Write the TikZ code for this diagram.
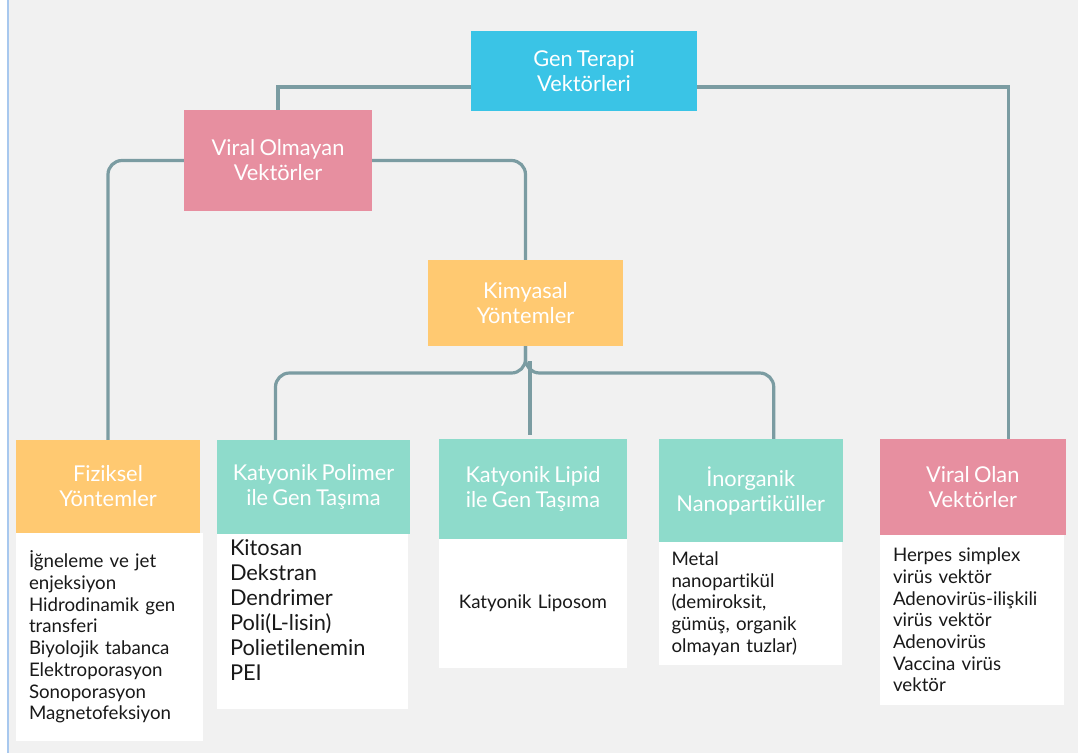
\documentclass[tikz,border=0pt]{standalone}
\usepackage{fontspec}
\setmainfont{Lato}[Ligatures={NoCommon}, WordSpace=0.75]
\usepackage{tikz}
\usetikzlibrary{positioning}
\definecolor{genblue}{HTML}{3AC4E6}
\definecolor{rosebox}{HTML}{E78FA0}
\definecolor{sandbox}{HTML}{FFC971}
\definecolor{mintbox}{HTML}{8EDBCB}
\definecolor{linkgray}{HTML}{7B9CA2}
\definecolor{paper}{HTML}{F1F1F1}
\definecolor{edgeblue}{HTML}{A8C8EE}

\begin{document}
\begin{tikzpicture}[x=1pt, y=-1pt,
  headbox/.style={rectangle, text=white, align=center, inner sep=0pt, font=\fontsize{21.8}{25}\selectfont},
  bodybox/.style={rectangle, fill=white, text=black!90, align=left, inner xsep=13pt, inner ysep=0pt, font=\fontsize{18.7}{21.7}\selectfont},
  link/.style={draw=linkgray, line width=3.2pt, rounded corners=14pt}]
  \useasboundingbox (0,0) rectangle (1078,753);
  \fill[paper] (0,0) rectangle (1078,753);
  \fill[white] (0,0) rectangle (8,753);
  \draw[edgeblue, line width=1.2pt] (8,0) -- (8,753);

  % top levels
  \node[headbox, fill=genblue, minimum width=226pt, minimum height=80pt] (gen) at (584,71) {Gen Terapi\\Vektörleri};
  \node[headbox, fill=rosebox, minimum width=188pt, minimum height=101pt] (nonviral) at (278,160.5) {Viral Olmayan\\Vektörler};
  \node[headbox, fill=sandbox, minimum width=195pt, minimum height=86pt] (chem) at (525.5,303) {Kimyasal\\Yöntemler};

  % bottom row
  \node[headbox, fill=sandbox, minimum width=184pt, minimum height=93pt] (physhead) at (108,486.5) {Fiziksel\\Yöntemler};
  \node[bodybox, text width=161pt, minimum height=208pt] (physbody) at (109.5,637) {İğneleme ve jet\\enjeksiyon\\Hidrodinamik gen\\transferi\\Biyolojik tabanca\\Elektroporasyon\\Sonoporasyon\\Magnetofeksiyon};

  \node[headbox, fill=mintbox, minimum width=193pt, minimum height=94pt] (polyhead) at (313.5,487) {Katyonik Polimer\\ile Gen Taşıma};
  \node[bodybox, text width=165pt, minimum height=175pt, font=\fontsize{21.8}{25}\selectfont] (polybody) at (312.5,621.5) {Kitosan\\Dekstran\\Dendrimer\\Poli(L-lisin)\\Polietilenemin\\PEI\\[-3pt]\mbox{}};

  \node[headbox, fill=mintbox, minimum width=188pt, minimum height=100pt] (liphead) at (533,489) {Katyonik Lipid\\ile Gen Taşıma};
  \node[bodybox, align=center, text width=162pt, minimum height=129pt] (lipbody) at (533,603.5) {Katyonik Liposom};

  \node[headbox, fill=mintbox, minimum width=184.5pt, minimum height=103pt] (inorghead) at (750.75,490.5) {İnorganik\\Nanopartiküller};
  \node[bodybox, text width=157pt, minimum height=123pt] (inorgbody) at (750,603.5) {Metal\\nanopartikül\\(demiroksit,\\gümüş, organik\\olmayan tuzlar)};

  \node[headbox, fill=rosebox, minimum width=185.5pt, minimum height=96pt] (viralhead) at (972.75,487) {Viral Olan\\Vektörler};
  \node[bodybox, text width=158pt, minimum height=170pt] (viralbody) at (972,620) {Herpes simplex\\virüs vektör\\Adenovirüs-ilişkili\\virüs vektör\\Adenovirüs\\Vaccina virüs\\vektör};

  % connectors
  \coordinate (fork) at (525.5,373);
  \draw[link, rounded corners=0pt] ([yshift=-16pt]gen.west) -| (nonviral.north);
  \draw[link, rounded corners=0pt] ([yshift=-16pt]gen.east) -| ([xshift=36pt]viralhead.north);
  \draw[link] (nonviral.west) -| (physhead.north);
  \draw[link] (nonviral.east) -| (chem.north);
  \draw[link] (chem.south) |- ([xshift=-38pt]polyhead.north |- fork) -- ([xshift=-38pt]polyhead.north);
  \draw[link] (chem.south) |- ([xshift=23pt]inorghead.north |- fork) -- ([xshift=23pt]inorghead.north);
  \draw[link] ([xshift=-3pt, yshift=4pt]liphead.north) -- ([xshift=-3pt, yshift=12pt]liphead.north |- fork);
\end{tikzpicture}
\end{document}
